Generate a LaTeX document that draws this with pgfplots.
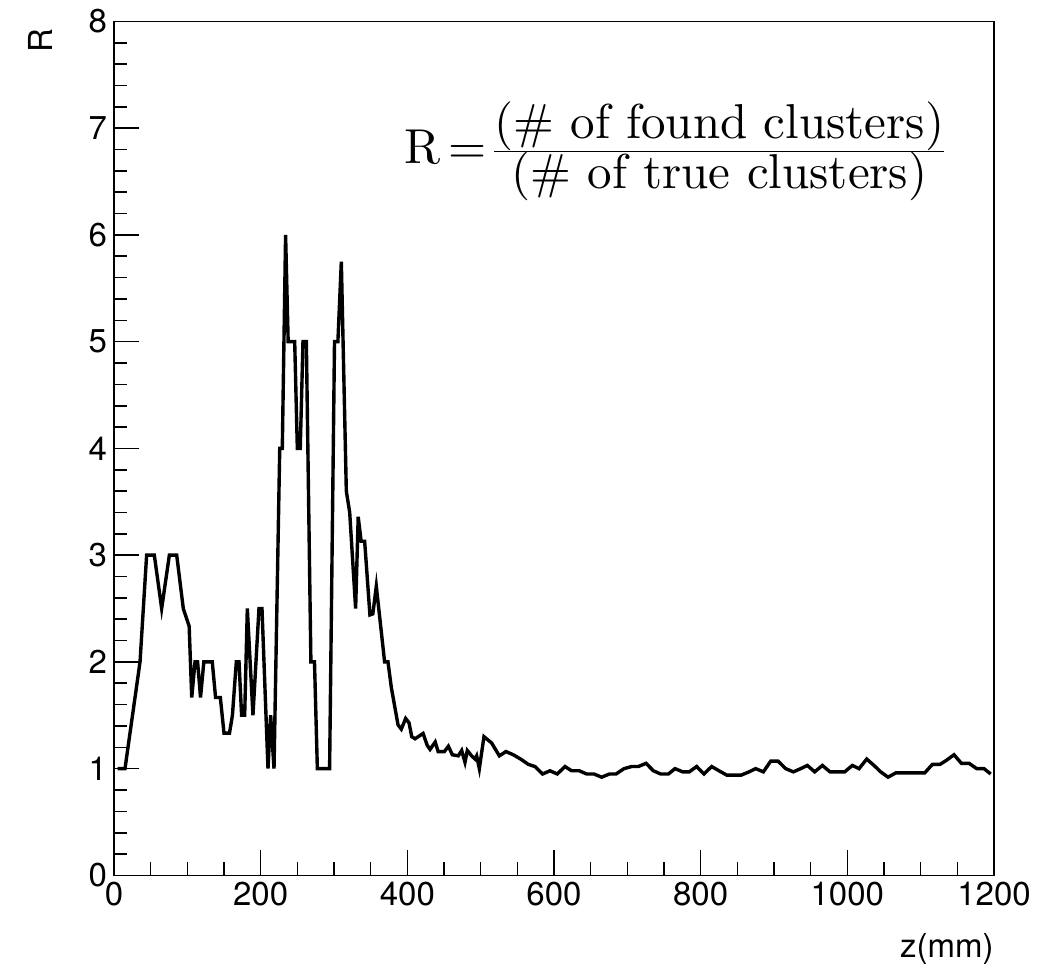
\RequirePackage{fix-cm}
\documentclass[border=0pt]{standalone}
\usepackage{amsmath}
\usepackage{fontspec}
\usepackage{pgfplots}
\pgfplotsset{compat=1.18}
\newfontfamily\helv{TeX Gyre Heros}
\newfontfamily\lmten{lmroman10-regular}[Extension=.otf]

\begin{document}
\begin{tikzpicture}
\begin{axis}[
  at={(0,0)}, anchor=south west,
  scale only axis, width=440pt, height=427pt,
  xmin=0, xmax=1200, ymin=0, ymax=8,
  xtick={0,200,...,1200}, ytick={0,1,...,8},
  minor x tick num=3, minor y tick num=4,
  tick align=inside, xtick pos=bottom, ytick pos=left,
  major tick length=12.5pt, minor tick length=6.5pt,
  axis line style={line width=0.85pt},
  tick style={line width=0.8pt, black},
  ticklabel style={font=\helv\fontsize{16.5}{17}\selectfont},
  /pgf/number format/assume math mode=true,
  /pgf/number format/1000 sep={},
  xlabel={z(mm)}, ylabel={R},
  label style={font=\helv\fontsize{16.5}{17}\selectfont},
  xlabel style={at={(rel axis cs:1,-0.096)}, anchor=base east, inner sep=0pt},
  ylabel style={at={(rel axis cs:-0.084,0.978)}, anchor=center},
  clip=false,
]
\addplot[black, line width=1.7pt, mark=none] coordinates {
(5,1) (15,1) (35.5,2) (44.5,3) (55,3) (65,2.5) (75.5,3) (85.5,3) (94.5,2.5)
(102.5,2.333) (106,1.667) (110.5,2) (114,2) (118,1.667) (122.5,2) (134,2)
(138.5,1.667) (145,1.667) (150,1.333) (157.5,1.333) (161.5,1.5) (166.8,2)
(170.5,2) (174,1.5) (178.2,1.5) (181.8,2.5) (189.5,1.5) (197.7,2.5) (201.8,2.5)
(210,1) (213.6,1.5) (218.2,1) (226,4) (229.5,4) (234,6) (237.5,5) (246.4,5)
(250,4) (254,4) (257.7,5) (262.3,5) (268.5,2) (273.4,2) (277.3,1) (294,1)
(300.7,5) (305.3,5) (310,5.75) (316.8,3.6) (321.4,3.4) (329.5,2.5) (333,3.36)
(337,3.13) (341.8,3.13) (349,2.44) (353,2.45) (357.7,2.71) (369,2.0) (373.6,2.0)
(378.2,1.76) (387.3,1.41) (391.8,1.37) (397.7,1.47) (402.3,1.43) (406,1.30)
(410.5,1.28) (421.5,1.33) (427,1.22) (431,1.18) (438,1.25) (442,1.16)
(450.5,1.16) (456,1.21) (461.4,1.13) (469.5,1.12) (474.1,1.17) (478.6,1.06)
(481.8,1.17) (487.7,1.12) (492.3,1.09) (494.5,1.12) (498.2,1.0) (504.5,1.30)
(515,1.24) (525.5,1.12) (534.5,1.16) (544.5,1.13) (554.5,1.09) (565,1.04)
(574,1.02) (584.5,0.95) (594.5,0.98) (604.5,0.95) (615,1.02) (624,0.98)
(634.5,0.98) (644.5,0.95) (654.5,0.95) (665,0.92) (675.5,0.95) (684.5,0.95)
(695.5,1.0) (706,1.02) (715,1.02) (725.5,1.05) (735.5,0.98) (745.5,0.95)
(756,0.95) (765,1.0) (775.5,0.97) (784.5,0.97) (794.5,1.02) (804.5,0.95)
(815,1.02) (825,0.98) (835.5,0.94) (845.5,0.94) (855.5,0.94) (866,0.97)
(875,1.0) (885.5,0.97) (895.5,1.07) (905.5,1.07) (916,1.0) (926.4,0.97)
(936.4,1.0) (945.5,1.03) (955.5,0.97) (966,1.03) (976.4,0.97) (986.4,0.97)
(996.4,0.97) (1006.8,1.03) (1016,1.0) (1026.4,1.09) (1036.4,1.03) (1045.5,0.97)
(1055.5,0.92) (1066,0.96) (1076.4,0.96) (1086.4,0.96) (1095.5,0.96) (1105.5,0.96)
(1116,1.04) (1126.4,1.04) (1135.5,1.08) (1145.5,1.13) (1155.5,1.05) (1166,1.05)
(1176.4,1.0) (1186.4,1.0) (1195.5,0.95)
};
\node[anchor=east, inner sep=0pt] at (rel axis cs:0.944,0.848)
  {\lmten\fontsize{24.5}{18.5}\selectfont R\kern4pt=\kern4pt\begin{tabular}[c]{@{}c@{}}(\# of found clusters)\\[0pt]\hline\rule{0pt}{18.5pt}(\# of true clusters)\end{tabular}};
\end{axis}
\pgfresetboundingbox
\path[use as bounding box] (-57pt,-47.5pt) rectangle (463pt,437.7pt);
\end{tikzpicture}
\end{document}
